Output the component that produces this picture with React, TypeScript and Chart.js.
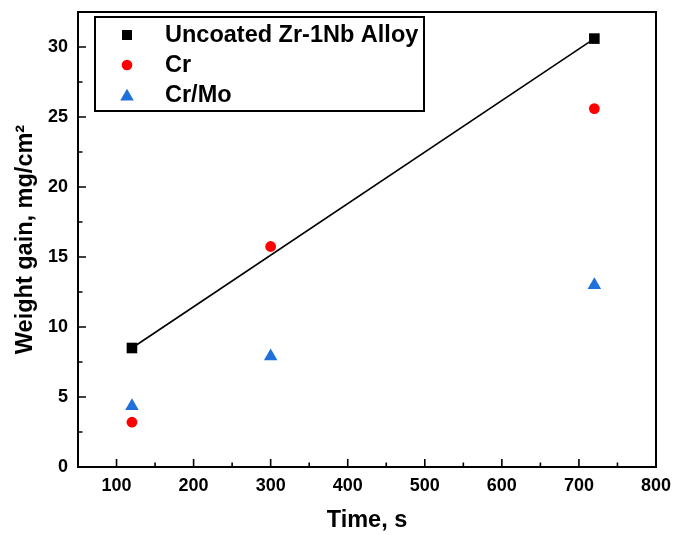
import React, { useEffect, useRef } from 'react';
import { Chart, registerables } from 'chart.js';

Chart.register(...registerables);

const X_MIN = 50;
const X_MAX = 800;
const Y_MIN = 0;
const Y_MAX = 32.5;
const X_TICKS = [100, 200, 300, 400, 500, 600, 700, 800];
const X_MINOR = [150, 250, 350, 450, 550, 650, 750];
const Y_TICKS = [0, 5, 10, 15, 20, 25, 30];
const Y_MINOR = [2.5, 7.5, 12.5, 17.5, 22.5, 27.5];

const SERIES_LABELS = ['Uncoated Zr-1Nb Alloy', 'Cr', 'Cr/Mo'];
const UNCOATED_X = [120, 720];
const UNCOATED_Y = [8.5, 30.6];
const CR_X = [120, 300, 720];
const CR_Y = [3.2, 15.75, 25.6];
const CRMO_X = [120, 300, 720];
const CRMO_Y = [4.35, 7.9, 13.0];
const FIT_X = [120, 720];
const FIT_Y = [8.5, 30.6];

const X_TITLE = 'Time, s';
const Y_TITLE = 'Weight gain, mg/cm²';

const FONT = "'Liberation Sans', Arial, sans-serif";
const BLUE = '#2070dc';
const RED = '#ff0000';

const toPts = (xs: number[], ys: number[]) => xs.map((x, i) => ({ x, y: ys[i] }));

const framePlugin = {
  id: 'frameAndLegend',
  afterDatasetsDraw(chart: any) {
    const { ctx, chartArea: a, scales } = chart;
    const sx = scales.x;
    const sy = scales.y;
    ctx.save();
    ctx.strokeStyle = '#000';
    ctx.lineWidth = 2;
    ctx.strokeRect(a.left, a.top, a.right - a.left, a.bottom - a.top);
    ctx.lineWidth = 1.6;
    ctx.beginPath();
    X_TICKS.forEach((v) => {
      const p = sx.getPixelForValue(v);
      ctx.moveTo(p, a.bottom);
      ctx.lineTo(p, a.bottom - 8);
    });
    X_MINOR.forEach((v) => {
      const p = sx.getPixelForValue(v);
      ctx.moveTo(p, a.bottom);
      ctx.lineTo(p, a.bottom - 4.5);
    });
    Y_TICKS.forEach((v) => {
      const p = sy.getPixelForValue(v);
      ctx.moveTo(a.left, p);
      ctx.lineTo(a.left + 8, p);
    });
    Y_MINOR.forEach((v) => {
      const p = sy.getPixelForValue(v);
      ctx.moveTo(a.left, p);
      ctx.lineTo(a.left + 4.5, p);
    });
    ctx.stroke();

    // legend
    const lx = a.left + 17;
    const ly = 17;
    const lw = 329;
    const lh = 94;
    ctx.lineWidth = 2;
    ctx.strokeRect(lx, ly, lw, lh);
    const markerX = lx + 32;
    const textX = lx + 70;
    const rows = [ly + 18, ly + 48, ly + 78];
    const styles = ['rect', 'circle', 'triangle'];
    const colors = ['#000000', RED, BLUE];
    rows.forEach((ry, i) => {
      ctx.fillStyle = colors[i];
      ctx.beginPath();
      if (styles[i] === 'rect') {
        ctx.rect(markerX - 5, ry - 5, 10, 10);
      } else if (styles[i] === 'circle') {
        ctx.arc(markerX, ry, 5.3, 0, Math.PI * 2);
      } else {
        const r = 7.8;
        const cy = ry + 1.5;
        ctx.moveTo(markerX, cy - r);
        ctx.lineTo(markerX + r * 0.866, cy + r / 2);
        ctx.lineTo(markerX - r * 0.866, cy + r / 2);
        ctx.closePath();
      }
      ctx.fill();
      ctx.fillStyle = '#000';
      ctx.font = `bold 23.5px ${FONT}`;
      ctx.textBaseline = 'middle';
      ctx.textAlign = 'left';
      ctx.fillText(SERIES_LABELS[i], textX, ry + 1);
    });
    ctx.restore();
  },
};

export default function App() {
  const ref = useRef<HTMLCanvasElement | null>(null);
  useEffect(() => {
    if (!ref.current) return;
    Chart.defaults.font.family = FONT;
    Chart.defaults.color = '#000';
    const chart = new Chart(ref.current, {
      type: 'scatter',
      data: {
        datasets: [
          {
            label: SERIES_LABELS[2],
            data: toPts(CRMO_X, CRMO_Y),
            pointStyle: 'triangle',
            pointRadius: 7.8,
            backgroundColor: BLUE,
            borderColor: BLUE,
            borderWidth: 0,
            order: 1,
          },
          {
            label: SERIES_LABELS[1],
            data: toPts(CR_X, CR_Y),
            pointStyle: 'circle',
            pointRadius: 5.4,
            backgroundColor: RED,
            borderColor: RED,
            borderWidth: 0,
            order: 2,
          },
          {
            label: SERIES_LABELS[0],
            data: toPts(UNCOATED_X, UNCOATED_Y),
            pointStyle: 'rect',
            pointRadius: 7.5,
            backgroundColor: '#000',
            borderColor: '#000',
            borderWidth: 0,
            order: 3,
          },
          {
            label: 'fit',
            data: toPts(FIT_X, FIT_Y),
            showLine: true,
            pointRadius: 0,
            borderColor: '#000',
            borderWidth: 1.6,
            order: 4,
          },
        ],
      },
      options: {
        responsive: false,
        animation: false,
        layout: { padding: { top: 12, right: 17, left: 0, bottom: 0 } },
        plugins: { legend: { display: false }, tooltip: { enabled: false } },
        scales: {
          x: {
            type: 'linear',
            min: X_MIN,
            max: X_MAX,
            grid: { display: false, drawTicks: false },
            border: { display: false },
            afterBuildTicks: (s: any) => {
              s.ticks = X_TICKS.map((v) => ({ value: v }));
            },
            afterFit: (s: any) => {
              s.height = 68;
              s.paddingLeft = 0;
              s.paddingRight = 0;
            },
            ticks: { padding: 8, font: { size: 18, weight: 'bold' }, color: '#000' },
            title: {
              display: true,
              text: X_TITLE,
              font: { size: 23.5, weight: 'bold' },
              color: '#000',
              padding: { top: 0, bottom: 0 },
            },
          },
          y: {
            type: 'linear',
            min: Y_MIN,
            max: Y_MAX,
            grid: { display: false, drawTicks: false },
            border: { display: false },
            afterBuildTicks: (s: any) => {
              s.ticks = Y_TICKS.map((v) => ({ value: v }));
            },
            afterFit: (s: any) => {
              s.width = 78;
              s.paddingTop = 0;
              s.paddingBottom = 0;
            },
            ticks: { padding: 10, font: { size: 18, weight: 'bold' }, color: '#000' },
            title: {
              display: true,
              text: Y_TITLE,
              font: { size: 23.5, weight: 'bold' },
              color: '#000',
              padding: { top: 11, bottom: 0 },
            },
          },
        },
      },
      plugins: [framePlugin],
    });
    return () => chart.destroy();
  }, []);
  return (
    <div style={{ position: 'absolute', left: 0, top: 0, width: 673, height: 535, background: '#fff' }}>
      <canvas ref={ref} width={673} height={535} />
    </div>
  );
}
